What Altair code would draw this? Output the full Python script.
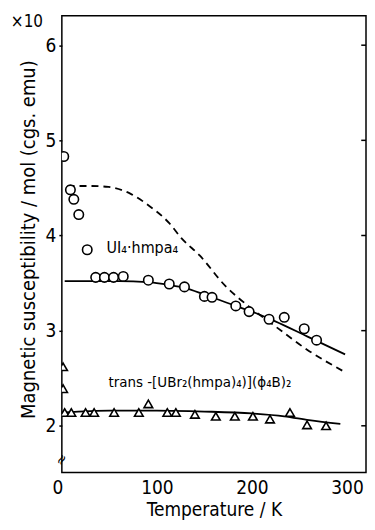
import altair as alt
import pandas as pd

FONT = "Liberation Sans Narrow, DejaVu Sans Condensed, Liberation Sans, sans-serif"

# UI4·hmpa4 measured points (circles)
circ_T = [2, 9, 12.6, 17.8, 35.6, 44.8, 54.4, 64.6, 91, 113, 129, 150, 158, 183, 197, 218, 234, 255, 268]
circ_v = [4.83, 4.48, 4.38, 4.22, 3.56, 3.56, 3.56, 3.57, 3.53, 3.49, 3.46, 3.36, 3.35, 3.26, 3.20, 3.12, 3.14, 3.02, 2.90]

# fitted curve through circles (solid)
cfit_T = [3, 30, 60, 90, 113, 129, 150, 180, 200, 224, 258, 298]
cfit_v = [3.52, 3.52, 3.52, 3.51, 3.48, 3.45, 3.38, 3.27, 3.20, 3.10, 2.94, 2.75]

# dashed curve
dash_T = [6, 30, 49, 72, 92, 113, 126, 145, 172, 196, 224, 258, 295]
dash_v = [4.52, 4.52, 4.51, 4.44, 4.31, 4.13, 3.97, 3.79, 3.47, 3.26, 3.05, 2.80, 2.58]

# trans-[UBr2(hmpa)4](phi4B)2 measured points (triangles)
tri_T = [1.3, 1.3, 3, 10, 25, 34, 55, 81, 91, 111, 120, 140, 162, 182, 201, 219, 240, 258, 278]
tri_v = [2.62, 2.39, 2.14, 2.14, 2.14, 2.14, 2.14, 2.14, 2.23, 2.14, 2.14, 2.12, 2.10, 2.10, 2.10, 2.07, 2.14, 2.01, 2.00]

# fitted curve through triangles (solid)
tfit_T = [2, 50, 100, 150, 200, 234, 260, 293]
tfit_v = [2.14, 2.16, 2.16, 2.15, 2.13, 2.10, 2.06, 2.02]

x_ticks = [0, 100, 200, 300]
y_ticks = [2, 3, 4, 5, 6]

xs = alt.Scale(domain=[0, 320], nice=False, zero=False)
ys = alt.Scale(domain=[1.51, 6.31], nice=False, zero=False)

x_axis = alt.Axis(values=x_ticks, ticks=False, domain=False, grid=False, format="d",
                  labelFont=FONT, labelFontSize=19, labelColor="black", labelPadding=6,
                  labelOffset={"condition": {"test": "datum.value == 0", "value": -10}, "value": 0},
                  title="Temperature / K", titleFont=FONT, titleFontSize=19,
                  titleFontWeight="normal", titleColor="black", titlePadding=3)
y_axis = alt.Axis(orient="left", values=y_ticks, tickSize=3, tickColor="black", tickWidth=1.5,
                  domain=False, grid=False, format="d",
                  labelFont=FONT, labelFontSize=19, labelColor="black", labelPadding=3,
                  title="Magnetic susceptibility / mol (cgs. emu)", titleFont=FONT,
                  titleFontSize=20, titleFontWeight="normal", titleColor="black",
                  titleX=-23, titleY=224)

circ_df = pd.DataFrame({"T": circ_T, "v": circ_v})
cfit_df = pd.DataFrame({"T": cfit_T, "v": cfit_v})
dash_df = pd.DataFrame({"T": dash_T, "v": dash_v})
tri_df = pd.DataFrame({"T": tri_T, "v": tri_v})
tfit_df = pd.DataFrame({"T": tfit_T, "v": tfit_v})

X = alt.X("T:Q", scale=xs, axis=x_axis)
Y = alt.Y("v:Q", scale=ys, axis=y_axis)

dash_line = alt.Chart(dash_df).mark_line(color="black", strokeWidth=1.8, strokeDash=[7, 5],
                                         interpolate="monotone").encode(x=X, y=Y)
cfit_line = alt.Chart(cfit_df).mark_line(color="black", strokeWidth=1.8,
                                         interpolate="monotone").encode(x=X, y=Y)
tfit_line = alt.Chart(tfit_df).mark_line(color="black", strokeWidth=1.8,
                                         interpolate="monotone").encode(x=X, y=Y)
circles = alt.Chart(circ_df).mark_point(shape="circle", size=90, filled=True, fill="white",
                                        stroke="black", strokeWidth=1.6, opacity=1,
                                        clip=True).encode(x=X, y=Y)
tris = alt.Chart(tri_df).mark_point(shape="triangle-up", size=75, filled=True, fill="white",
                                    stroke="black", strokeWidth=1.6, opacity=1,
                                    clip=True).encode(x=X, y=Y)

# legend markers and labels
leg_c = alt.Chart(pd.DataFrame({"T": [26.7], "v": [3.85]})).mark_point(
    shape="circle", size=90, filled=True, fill="white", stroke="black", strokeWidth=1.6,
    opacity=1).encode(x=X, y=Y)
lab1 = alt.Chart(pd.DataFrame({"T": [47], "v": [3.87], "t": ["UI₄·hmpa₄"]})).mark_text(
    font=FONT, fontSize=16, align="left", baseline="middle", color="black").encode(
    x=X, y=Y, text="t:N")
lab2 = alt.Chart(pd.DataFrame({"T": [49], "v": [2.46],
                               "t": ["trans -[UBr₂(hmpa)₄)](ϕ₄B)₂"]})).mark_text(
    font=FONT, fontSize=15, align="left", baseline="middle", color="black").encode(
    x=X, y=Y, text="t:N")

brk = alt.Chart(pd.DataFrame({"T": [0], "v": [1.64]})).mark_text(
    text="≈", font="DejaVu Sans", fontSize=14, color="black", angle=300).encode(x=X, y=Y)

mult = alt.Chart(pd.DataFrame({"t": ["×10"]})).mark_text(
    font=FONT, fontSize=17, align="center", baseline="middle", color="black").encode(
    x=alt.value(-35), y=alt.value(6), text="t:N")

# inward ticks on the right-hand frame
rt_df = pd.DataFrame({"T": [315.0] * len(y_ticks), "T2": [320.0] * len(y_ticks), "v": y_ticks})
right_ticks = alt.Chart(rt_df).mark_rule(color="black", strokeWidth=1.5).encode(
    x=X, x2="T2:Q", y=Y)

chart = alt.layer(dash_line, cfit_line, tfit_line, circles, tris, leg_c, lab1, lab2, brk, mult,
                  right_ticks).properties(
    width=305, height=458,
    autosize=alt.AutoSizeParams(type="none"),
    padding={"left": 54, "top": 7, "right": 1, "bottom": 49},
    background="white",
).configure_view(stroke="black", strokeWidth=1.5)

chart.save("out.html", embed_options={"renderer": "svg", "actions": False})
